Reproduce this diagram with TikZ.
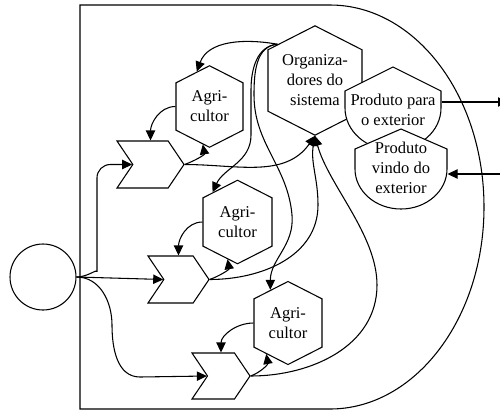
\documentclass[tikz,border=0pt]{standalone}
\usepackage{fontspec}
\setmainfont{Liberation Serif}
\usetikzlibrary{shapes.symbols,arrows.meta}

\begin{document}
\begin{tikzpicture}[x=0.75pt,y=-0.75pt,line width=0.8pt,
    every node/.style={font=\fontsize{12.4}{15}\selectfont,align=center,inner sep=0pt},
    hexa/.style={signal,signal to=north and south,signal pointer angle=126,draw,fill=white},
    chev/.style={signal,signal from=west,signal to=east,signal pointer angle=112,draw,fill=white},
    arr/.style={-{Triangle[length=7.5pt,width=7pt]}}]
    \useasboundingbox (0,0) rectangle (500,412);

    \draw (80,5) -- (330,5) arc[start angle=-90,end angle=90,x radius=154,y radius=202] -- (80,409) -- cycle;

    \node[circle,draw,minimum size=49.5pt] (circ) at (43,277) {};

    \node[chev,minimum width=50.25pt,minimum height=35.25pt] (ch1) at (150.5,164.5) {};
    \node[chev,minimum width=45.75pt,minimum height=35.25pt] (ch2) at (178.5,279.5) {};
    \node[chev,minimum width=43.5pt,minimum height=34.5pt] (ch3) at (221,376) {};

    \node[hexa,minimum width=50.25pt,minimum height=50.25pt] (agri1) at (209.5,106.5) {Agri-\\cultor};
    \node[hexa,minimum width=51.75pt,minimum height=51pt] (agri2) at (237.5,222) {Agri-\\cultor};
    \node[hexa,minimum width=51pt,minimum height=51pt] (agri3) at (288,323) {Agri-\\cultor};
    \node[hexa,minimum width=70.5pt,minimum height=71.25pt] (org) at (315,80.5) {Organiza-\\dores do\\sistema};

    \filldraw[fill=white] (393,67) -- (441,91) -- (441,108) arc[start angle=0,end angle=180,x radius=48,y radius=42] -- (345,91) -- cycle;
    \node[minimum width=72pt] (pout) at (393,110) {Produto para\\o exterior};
    \filldraw[fill=white] (401,129) -- (447,149) -- (447,169) arc[start angle=0,end angle=180,x radius=46,y radius=40] -- (355,149) -- cycle;
    \node[minimum width=69pt] (pin) at (401,168) {Produto\\vindo do\\exterior};

    \coordinate (outR) at (508,102);
    \coordinate (inR) at (500,174);

    \draw[arr,rounded corners=10pt] (circ.east) to[out=0,in=-90] (97,258) |- (ch1.west);
    \draw[arr] (circ.east) -- (ch2.west);
    \draw[arr] (circ.east) to[out=0,in=90] (112,325) to[out=-90,in=180] (140,377) -- (ch3.west);

    \draw[arr] (ch1.east) to[out=20,in=-80] (agri1.-100);
    \draw[arr] (agri1.west) to[out=180,in=90] (ch1.north);
    \draw[arr] (ch2.east) to[out=20,in=-80] (agri2.-105);
    \draw[arr] (agri2.west) to[out=180,in=90] (ch2.north);
    \draw[arr] (ch3.east) to[out=20,in=-80] (agri3.-125);
    \draw[arr] (agri3.west) to[out=180,in=90] (ch3.north);

    \draw[arr] (org.136) to[out=170,in=70] (agri1.110);
    \draw[arr] (org.136) to[out=185,in=90] (251,90) -- (251,135) to[out=-90,in=65] (agri2.130);
    \draw[arr] (org.136) to[out=185,in=90] (254,95) to[out=-90,in=95] (292,215) to[out=-85,in=90] (agri3.118);

    \draw[arr] (ch1.east) to[out=0,in=-125] (org.south);
    \draw[arr] (ch2.east) to[out=0,in=-90] (318,205) to[out=90,in=-100] (org.south);
    \draw[arr] (ch3.east) to[out=0,in=-90] (377,285) to[out=90,in=-75,looseness=0.8] (org.south);

    \draw[arr] (outR -| pout.east) -- (outR);
    \draw[arr] (inR) -- (inR -| pin.east);
\end{tikzpicture}
\end{document}
